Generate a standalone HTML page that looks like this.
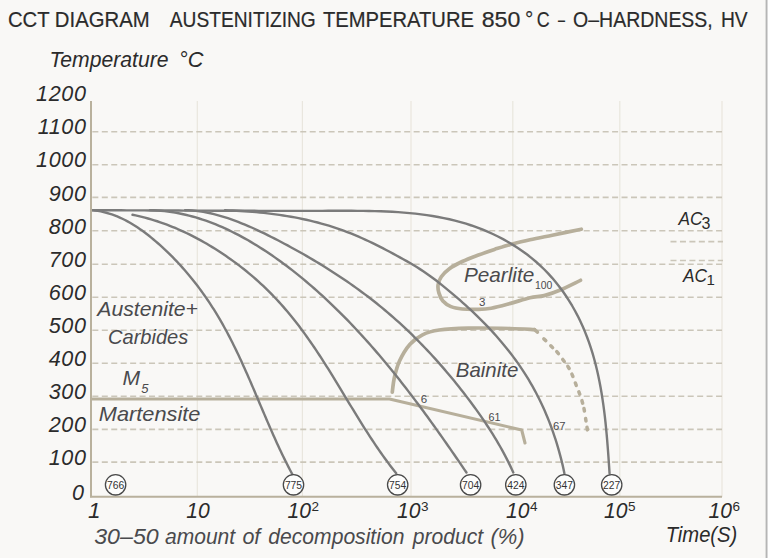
<!DOCTYPE html>
<html><head><meta charset="utf-8"><style>
html,body{margin:0;padding:0;background:#f9f8f6;}
body{width:768px;height:558px;overflow:hidden;position:relative;}
svg{position:absolute;left:0;top:0;}
text{font-family:"Liberation Sans",sans-serif;}
</style></head><body>
<svg width="768" height="558" viewBox="0 0 768 558">
<rect x="0" y="0" width="768" height="558" fill="#f9f8f6"/>
<line x1="197.3" y1="101.0" x2="197.3" y2="497.0" stroke="#e9e6de" stroke-width="1.2"/>
<line x1="302.4" y1="101.0" x2="302.4" y2="497.0" stroke="#e9e6de" stroke-width="1.2"/>
<line x1="411.0" y1="101.0" x2="411.0" y2="497.0" stroke="#e9e6de" stroke-width="1.2"/>
<line x1="512.8" y1="101.0" x2="512.8" y2="497.0" stroke="#e9e6de" stroke-width="1.2"/>
<line x1="619.8" y1="101.0" x2="619.8" y2="497.0" stroke="#e9e6de" stroke-width="1.2"/>
<line x1="722.0" y1="101.0" x2="722.0" y2="497.0" stroke="#e9e6de" stroke-width="1.2"/>
<line x1="92.35" y1="131.8" x2="722.0" y2="131.8" stroke="#cbc6b9" stroke-width="1.6" stroke-dasharray="6 3.45"/>
<line x1="92.35" y1="164.7" x2="722.0" y2="164.7" stroke="#cbc6b9" stroke-width="1.6" stroke-dasharray="6 3.45"/>
<line x1="92.35" y1="197.4" x2="722.0" y2="197.4" stroke="#cbc6b9" stroke-width="1.6" stroke-dasharray="6 3.45"/>
<line x1="92.35" y1="230.7" x2="722.0" y2="230.7" stroke="#cbc6b9" stroke-width="1.6" stroke-dasharray="6 3.45"/>
<line x1="92.35" y1="264.2" x2="722.0" y2="264.2" stroke="#cbc6b9" stroke-width="1.6" stroke-dasharray="6 3.45"/>
<line x1="92.35" y1="297.2" x2="722.0" y2="297.2" stroke="#cbc6b9" stroke-width="1.6" stroke-dasharray="6 3.45"/>
<line x1="92.35" y1="330.2" x2="722.0" y2="330.2" stroke="#cbc6b9" stroke-width="1.6" stroke-dasharray="6 3.45"/>
<line x1="92.35" y1="363.2" x2="722.0" y2="363.2" stroke="#cbc6b9" stroke-width="1.6" stroke-dasharray="6 3.45"/>
<line x1="92.35" y1="396.2" x2="722.0" y2="396.2" stroke="#cbc6b9" stroke-width="1.6" stroke-dasharray="6 3.45"/>
<line x1="92.35" y1="429.4" x2="722.0" y2="429.4" stroke="#cbc6b9" stroke-width="1.6" stroke-dasharray="6 3.45"/>
<line x1="92.35" y1="462.1" x2="722.0" y2="462.1" stroke="#cbc6b9" stroke-width="1.6" stroke-dasharray="6 3.45"/>
<line x1="670.5" y1="241.6" x2="723" y2="241.6" stroke="#cbc6b9" stroke-width="1.6" stroke-dasharray="6 3.45"/>
<line x1="670.5" y1="260.5" x2="723" y2="260.5" stroke="#cbc6b9" stroke-width="1.6" stroke-dasharray="6 3.45"/>
<path d="M581.3 229.2 C576.5 230.2 560.8 233.4 552.3 235.2 C543.8 236.9 537.0 238.1 530.0 239.7 C523.0 241.2 516.5 242.9 510.6 244.5 C504.7 246.1 499.9 247.7 494.5 249.4 C489.1 251.2 483.8 253.0 478.4 255.0 C473.0 257.0 467.1 259.2 462.3 261.5 C457.5 263.8 452.9 266.1 449.4 268.7 C445.9 271.2 443.2 274.1 441.3 276.8 C439.4 279.5 438.5 282.1 438.1 284.8 C437.7 287.5 438.1 290.2 438.9 292.9 C439.7 295.6 440.9 298.7 442.9 301.0 C444.9 303.3 447.8 305.3 451.0 306.6 C454.2 307.9 457.7 308.5 462.3 309.0 C466.9 309.5 473.6 309.5 478.4 309.4 C483.2 309.3 485.9 309.2 491.3 308.2 C496.7 307.2 504.2 305.1 510.6 303.4 C517.1 301.6 524.4 299.0 530.0 297.7 C535.6 296.4 539.2 296.9 544.2 295.6 C549.2 294.3 554.2 292.6 560.3 290.0 C566.3 287.4 577.1 281.9 580.5 280.3" fill="none" stroke="#b7af9b" stroke-width="3.7" stroke-linecap="round" stroke-linejoin="round" />
<path d="M392.3 392.1 C392.6 389.7 393.2 382.7 394.4 377.5 C395.6 372.3 397.0 366.4 399.6 360.8 C402.2 355.2 406.2 348.5 410.0 344.2 C413.8 339.9 417.6 337.2 422.5 334.8 C427.4 332.4 431.6 331.1 439.2 330.0 C446.8 328.9 456.5 328.4 468.3 328.1 C480.1 327.9 499.0 328.2 510.0 328.5 C521.0 328.8 530.4 329.5 534.5 329.7" fill="none" stroke="#b7af9b" stroke-width="3.7" stroke-linecap="round" stroke-linejoin="round" />
<path d="M543.82 338.94 L545.78 340.66 M550.78 345.78 L552.62 347.62 M556.76 351.61 L558.44 353.59 M562.73 359.45 L564.27 361.55 M567.83 366.29 L569.17 368.51 M571.88 374.11 L572.92 376.49 M575.33 382.99 L576.27 385.41 M578.85 391.78 L579.75 394.22 M581.94 400.65 L582.66 403.15 M583.95 408.52 L584.45 411.08 M585.60 418.42 L586.00 420.98 M587.00 427.32 L587.40 429.88 " fill="none" stroke="#b7af9b" stroke-width="3.5" stroke-linecap="round"/>
<path d="M534.5 329.7 L537.5 332.2" fill="none" stroke="#b7af9b" stroke-width="3.5" stroke-linecap="round" stroke-linejoin="round" />
<path d="M92.0 399.0 L389.5 399.0 L521.7 430.0 L525.0 443.0" fill="none" stroke="#b7af9b" stroke-width="3.1" stroke-linecap="round" stroke-linejoin="round" />
<path d="M91.98 210.19 L97.83 210.21 L103.66 210.24 L109.48 210.26 L115.29 210.28 L121.09 210.31 L126.89 210.33 L132.67 210.36 L138.45 210.38 L144.22 210.41 L149.99 210.43 L155.75 210.46 L161.50 210.48 L167.25 210.51 L172.99 210.53 L178.73 210.56 L184.47 210.58 L190.20 210.61 L195.93 210.63 L201.66 210.65 L207.39 210.67 L213.12 210.70 L218.84 210.72 L224.57 210.74 L230.29 210.75 L236.02 210.77 L241.75 210.79 L247.48 210.80 L253.21 210.81 L258.95 210.83 L264.69 210.84 L270.43 210.84 L276.18 210.85 L281.93 210.86 L287.69 210.86 L293.45 210.86 L299.22 210.86 L305.00 210.85 L310.78 210.85 L316.57 210.84 L322.37 210.83 L328.18 210.82 L334.00 210.80 L339.83 210.79 L345.66 210.78 L351.50 210.79 L357.33 210.83 L363.17 210.88 L369.01 210.97 L374.84 211.11 L380.67 211.28 L386.49 211.51 L392.30 211.80 L398.10 212.15 L403.88 212.58 L409.65 213.08 L415.40 213.66 L421.13 214.34 L426.84 215.11 L432.52 215.98 L438.18 216.96 L443.81 218.06 L449.41 219.28 L454.98 220.62 L460.52 222.10 L466.02 223.72 L471.48 225.49 L476.89 227.40 L482.26 229.46 L487.56 231.66 L492.81 234.01 L497.98 236.50 L503.07 239.15 L508.08 241.93 L513.00 244.87 L517.82 247.95 L522.54 251.18 L527.15 254.55 L531.64 258.07 L536.00 261.74 L540.24 265.55 L544.34 269.51 L548.30 273.61 L552.12 277.84 L555.81 282.20 L559.35 286.69 L562.76 291.29 L566.02 296.00 L569.15 300.82 L572.13 305.74 L574.97 310.75 L577.67 315.84 L580.22 321.02 L582.63 326.27 L584.89 331.59 L587.02 336.97 L589.00 342.41 L590.85 347.91 L592.58 353.45 L594.18 359.04 L595.67 364.68 L597.05 370.34 L598.33 376.04 L599.51 381.77 L600.60 387.52 L601.59 393.29 L602.51 399.07 L603.35 404.86 L604.12 410.66 L604.83 416.46 L605.48 422.25 L606.07 428.03 L606.61 433.81 L607.12 439.56 L607.58 445.29 L608.02 451.00 L608.43 456.67 L608.82 462.31 L609.20 467.91 L609.56 473.47" fill="none" stroke="#7b7b7b" stroke-width="2.4" stroke-linecap="round" stroke-linejoin="round" />
<path d="M225.00 210.19 L228.88 210.34 L232.76 210.52 L236.65 210.72 L240.53 210.95 L244.42 211.20 L248.31 211.48 L252.20 211.79 L256.09 212.14 L259.98 212.51 L263.86 212.91 L267.75 213.35 L271.63 213.83 L275.50 214.33 L279.37 214.88 L283.23 215.46 L287.09 216.08 L290.94 216.74 L294.78 217.44 L298.61 218.18 L302.43 218.96 L306.24 219.79 L310.04 220.66 L313.83 221.57 L317.60 222.53 L321.36 223.54 L325.10 224.60 L328.83 225.71 L332.55 226.86 L336.25 228.07 L339.93 229.33 L343.59 230.64 L347.23 232.01 L350.85 233.43 L354.46 234.90 L358.04 236.42 L361.61 237.99 L365.16 239.60 L368.70 241.24 L372.22 242.92 L375.72 244.64 L379.21 246.39 L382.69 248.16 L386.15 249.96 L389.60 251.78 L393.04 253.62 L396.47 255.48 L399.89 257.35 L403.29 259.23 L406.68 261.14 L410.05 263.08 L413.39 265.06 L416.71 267.08 L419.99 269.14 L423.25 271.25 L426.46 273.43 L429.64 275.66 L432.77 277.96 L435.87 280.31 L438.95 282.71 L442.00 285.14 L445.03 287.59 L448.05 290.07 L451.06 292.57 L454.04 295.09 L457.01 297.63 L459.96 300.19 L462.89 302.78 L465.80 305.39 L468.68 308.03 L471.55 310.69 L474.38 313.38 L477.20 316.09 L479.98 318.82 L482.74 321.58 L485.47 324.37 L488.17 327.19 L490.83 330.03 L493.47 332.89 L496.08 335.79 L498.64 338.71 L501.18 341.67 L503.68 344.65 L506.14 347.66 L508.57 350.69 L510.95 353.76 L513.29 356.86 L515.60 359.99 L517.86 363.15 L520.08 366.34 L522.25 369.57 L524.38 372.82 L526.46 376.11 L528.50 379.43 L530.48 382.78 L532.42 386.16 L534.31 389.58 L536.15 393.02 L537.94 396.49 L539.68 399.99 L541.38 403.51 L543.02 407.05 L544.62 410.61 L546.16 414.20 L547.66 417.80 L549.11 421.42 L550.50 425.05 L551.85 428.70 L553.15 432.37 L554.40 436.04 L555.60 439.73 L556.76 443.43 L557.87 447.14 L558.94 450.86 L559.97 454.60 L560.96 458.35 L561.90 462.11 L562.81 465.88 L563.66 469.68 L564.41 473.50" fill="none" stroke="#7b7b7b" stroke-width="2.4" stroke-linecap="round" stroke-linejoin="round" />
<path d="M185.00 210.18 L188.68 210.29 L192.35 210.52 L196.00 210.86 L199.62 211.32 L203.22 211.88 L206.81 212.54 L210.37 213.29 L213.91 214.13 L217.44 215.05 L220.94 216.04 L224.42 217.11 L227.89 218.23 L231.33 219.42 L234.75 220.65 L238.16 221.94 L241.54 223.27 L244.91 224.64 L248.27 226.06 L251.61 227.52 L254.93 229.01 L258.24 230.54 L261.54 232.10 L264.83 233.69 L268.11 235.31 L271.38 236.95 L274.64 238.61 L277.89 240.29 L281.13 241.99 L284.37 243.71 L287.60 245.43 L290.82 247.18 L294.04 248.94 L297.24 250.72 L300.44 252.51 L303.63 254.33 L306.81 256.15 L309.98 258.00 L313.14 259.86 L316.29 261.74 L319.43 263.64 L322.56 265.55 L325.67 267.49 L328.78 269.44 L331.87 271.41 L334.95 273.40 L338.02 275.41 L341.07 277.43 L344.11 279.48 L347.13 281.54 L350.14 283.63 L353.14 285.73 L356.12 287.86 L359.08 290.00 L362.03 292.17 L364.96 294.35 L367.88 296.56 L370.77 298.79 L373.65 301.04 L376.52 303.30 L379.36 305.60 L382.19 307.91 L384.99 310.24 L387.78 312.60 L390.55 314.98 L393.30 317.38 L396.03 319.79 L398.74 322.23 L401.44 324.70 L404.11 327.18 L406.77 329.68 L409.41 332.20 L412.03 334.73 L414.63 337.29 L417.22 339.87 L419.79 342.47 L422.34 345.08 L424.87 347.71 L427.38 350.36 L429.88 353.03 L432.36 355.71 L434.82 358.41 L437.26 361.13 L439.69 363.87 L442.10 366.62 L444.49 369.38 L446.87 372.17 L449.23 374.96 L451.57 377.78 L453.90 380.60 L456.21 383.45 L458.50 386.30 L460.77 389.17 L463.03 392.06 L465.28 394.96 L467.50 397.87 L469.71 400.79 L471.91 403.73 L474.08 406.69 L476.23 409.65 L478.36 412.64 L480.47 415.63 L482.56 418.65 L484.62 421.68 L486.65 424.72 L488.66 427.78 L490.64 430.86 L492.59 433.95 L494.51 437.06 L496.39 440.19 L498.25 443.34 L500.07 446.50 L501.86 449.68 L503.61 452.88 L505.33 456.10 L507.01 459.34 L508.64 462.60 L510.24 465.88 L511.80 469.17 L513.31 472.49" fill="none" stroke="#7b7b7b" stroke-width="2.4" stroke-linecap="round" stroke-linejoin="round" />
<path d="M150.00 210.15 L153.64 210.28 L157.27 210.49 L160.88 210.77 L164.46 211.13 L168.03 211.56 L171.57 212.06 L175.09 212.63 L178.60 213.28 L182.08 213.98 L185.54 214.76 L188.99 215.60 L192.41 216.50 L195.82 217.46 L199.20 218.49 L202.57 219.57 L205.91 220.71 L209.24 221.90 L212.54 223.15 L215.83 224.46 L219.10 225.81 L222.35 227.21 L225.58 228.67 L228.80 230.17 L231.99 231.71 L235.17 233.31 L238.32 234.94 L241.46 236.61 L244.59 238.33 L247.69 240.08 L250.77 241.87 L253.84 243.70 L256.89 245.56 L259.92 247.46 L262.94 249.38 L265.93 251.34 L268.91 253.32 L271.88 255.34 L274.82 257.38 L277.75 259.44 L280.66 261.54 L283.56 263.66 L286.43 265.80 L289.29 267.97 L292.14 270.16 L294.96 272.38 L297.77 274.62 L300.56 276.88 L303.34 279.16 L306.10 281.46 L308.84 283.79 L311.57 286.13 L314.27 288.49 L316.97 290.87 L319.64 293.27 L322.30 295.69 L324.94 298.13 L327.57 300.58 L330.18 303.04 L332.77 305.52 L335.35 308.02 L337.91 310.53 L340.46 313.06 L342.99 315.59 L345.50 318.14 L348.00 320.71 L350.48 323.28 L352.95 325.87 L355.40 328.47 L357.83 331.08 L360.26 333.70 L362.67 336.33 L365.06 338.98 L367.44 341.63 L369.81 344.30 L372.16 346.98 L374.50 349.66 L376.83 352.36 L379.15 355.07 L381.45 357.79 L383.74 360.52 L386.02 363.25 L388.29 366.00 L390.55 368.76 L392.80 371.52 L395.03 374.29 L397.26 377.08 L399.47 379.87 L401.68 382.67 L403.87 385.47 L406.06 388.29 L408.24 391.11 L410.41 393.94 L412.56 396.78 L414.72 399.62 L416.86 402.47 L418.99 405.33 L421.12 408.20 L423.24 411.07 L425.35 413.95 L427.46 416.83 L429.56 419.72 L431.65 422.62 L433.73 425.52 L435.81 428.42 L437.89 431.33 L439.96 434.25 L442.02 437.17 L444.08 440.10 L446.13 443.03 L448.18 445.96 L450.23 448.90 L452.27 451.84 L454.31 454.78 L456.34 457.73 L458.37 460.69 L460.40 463.64 L462.43 466.60 L464.45 469.56 L466.47 472.52" fill="none" stroke="#7b7b7b" stroke-width="2.4" stroke-linecap="round" stroke-linejoin="round" />
<path d="M132.50 214.79 L135.63 215.43 L138.75 216.12 L141.86 216.86 L144.95 217.64 L148.03 218.48 L151.11 219.36 L154.17 220.28 L157.21 221.25 L160.25 222.27 L163.27 223.33 L166.27 224.43 L169.27 225.58 L172.25 226.76 L175.21 227.98 L178.16 229.25 L181.10 230.55 L184.02 231.89 L186.92 233.26 L189.81 234.67 L192.68 236.12 L195.53 237.59 L198.37 239.11 L201.19 240.65 L203.99 242.22 L206.77 243.83 L209.54 245.46 L212.29 247.12 L215.02 248.81 L217.72 250.53 L220.41 252.27 L223.08 254.03 L225.73 255.83 L228.36 257.64 L230.97 259.48 L233.56 261.35 L236.12 263.24 L238.67 265.15 L241.19 267.10 L243.70 269.06 L246.18 271.05 L248.64 273.07 L251.09 275.11 L253.50 277.18 L255.90 279.27 L258.28 281.39 L260.63 283.54 L262.96 285.71 L265.28 287.91 L267.56 290.13 L269.83 292.38 L272.07 294.66 L274.29 296.96 L276.49 299.28 L278.67 301.64 L280.82 304.02 L282.95 306.42 L285.06 308.84 L287.15 311.29 L289.21 313.75 L291.25 316.24 L293.27 318.74 L295.27 321.26 L297.25 323.80 L299.21 326.35 L301.15 328.92 L303.06 331.50 L304.96 334.09 L306.83 336.70 L308.69 339.32 L310.52 341.95 L312.34 344.59 L314.15 347.24 L315.94 349.90 L317.71 352.56 L319.47 355.24 L321.22 357.92 L322.96 360.62 L324.68 363.32 L326.40 366.02 L328.10 368.73 L329.80 371.45 L331.48 374.17 L333.17 376.90 L334.84 379.62 L336.51 382.36 L338.18 385.09 L339.84 387.83 L341.50 390.57 L343.15 393.31 L344.81 396.05 L346.47 398.79 L348.12 401.53 L349.78 404.26 L351.44 407.00 L353.10 409.73 L354.77 412.47 L356.44 415.19 L358.12 417.92 L359.81 420.64 L361.50 423.35 L363.20 426.06 L364.91 428.77 L366.63 431.46 L368.36 434.15 L370.10 436.84 L371.86 439.51 L373.63 442.18 L375.41 444.84 L377.21 447.48 L379.02 450.12 L380.85 452.75 L382.70 455.36 L384.56 457.96 L386.45 460.56 L388.35 463.13 L390.28 465.70 L392.23 468.25 L394.20 470.78 L396.19 473.31" fill="none" stroke="#7b7b7b" stroke-width="2.4" stroke-linecap="round" stroke-linejoin="round" />
<path d="M92.01 210.18 L94.96 210.50 L97.87 210.91 L100.74 211.43 L103.57 212.05 L106.37 212.75 L109.13 213.55 L111.86 214.43 L114.55 215.40 L117.20 216.44 L119.83 217.56 L122.42 218.76 L124.98 220.03 L127.50 221.36 L130.00 222.75 L132.47 224.21 L134.91 225.72 L137.32 227.29 L139.71 228.90 L142.07 230.57 L144.40 232.27 L146.71 234.02 L149.00 235.81 L151.26 237.63 L153.50 239.47 L155.72 241.35 L157.92 243.25 L160.09 245.18 L162.25 247.13 L164.38 249.10 L166.50 251.10 L168.59 253.12 L170.66 255.16 L172.72 257.22 L174.75 259.30 L176.76 261.41 L178.74 263.53 L180.71 265.68 L182.66 267.84 L184.58 270.03 L186.48 272.23 L188.37 274.45 L190.23 276.69 L192.06 278.95 L193.88 281.22 L195.68 283.51 L197.45 285.82 L199.20 288.15 L200.94 290.49 L202.64 292.84 L204.33 295.21 L206.00 297.60 L207.64 300.00 L209.26 302.41 L210.86 304.84 L212.44 307.28 L214.00 309.73 L215.53 312.19 L217.04 314.67 L218.53 317.16 L220.00 319.66 L221.45 322.16 L222.88 324.68 L224.29 327.21 L225.68 329.75 L227.05 332.30 L228.41 334.86 L229.75 337.42 L231.07 340.00 L232.38 342.58 L233.67 345.17 L234.95 347.77 L236.22 350.37 L237.47 352.98 L238.71 355.60 L239.94 358.23 L241.16 360.86 L242.36 363.49 L243.56 366.13 L244.75 368.78 L245.93 371.42 L247.11 374.08 L248.27 376.73 L249.44 379.39 L250.59 382.06 L251.74 384.72 L252.89 387.39 L254.03 390.06 L255.17 392.73 L256.30 395.41 L257.44 398.08 L258.57 400.76 L259.70 403.43 L260.84 406.11 L261.97 408.78 L263.11 411.46 L264.25 414.13 L265.39 416.81 L266.53 419.48 L267.68 422.15 L268.83 424.81 L269.99 427.48 L271.15 430.14 L272.32 432.80 L273.50 435.45 L274.69 438.10 L275.88 440.75 L277.09 443.39 L278.30 446.02 L279.52 448.66 L280.76 451.28 L282.01 453.90 L283.27 456.51 L284.54 459.12 L285.83 461.72 L287.13 464.31 L288.44 466.90 L289.78 469.48 L291.12 472.05 L292.49 474.61" fill="none" stroke="#7b7b7b" stroke-width="2.4" stroke-linecap="round" stroke-linejoin="round" />
<line x1="91" y1="101" x2="91" y2="497.2" stroke="#b9b19d" stroke-width="2"/>
<line x1="90" y1="496.8" x2="722" y2="496.8" stroke="#b9b19d" stroke-width="2.0"/>
<circle cx="115.6" cy="484.8" r="10.2" fill="#fdfdfc" stroke="#4a4a4a" stroke-width="1.3"/>
<text x="115.60" y="488.80" font-size="11.60" font-style="normal" fill="#333" style="color:#333" text-anchor="middle" textLength="17.2" lengthAdjust="spacingAndGlyphs" >766</text>
<circle cx="293.5" cy="484.8" r="10.2" fill="#fdfdfc" stroke="#4a4a4a" stroke-width="1.3"/>
<text x="293.50" y="488.80" font-size="11.60" font-style="normal" fill="#333" style="color:#333" text-anchor="middle" textLength="17.2" lengthAdjust="spacingAndGlyphs" >775</text>
<circle cx="397.7" cy="484.8" r="10.2" fill="#fdfdfc" stroke="#4a4a4a" stroke-width="1.3"/>
<text x="397.70" y="488.80" font-size="11.60" font-style="normal" fill="#333" style="color:#333" text-anchor="middle" textLength="17.2" lengthAdjust="spacingAndGlyphs" >754</text>
<circle cx="470.6" cy="484.8" r="10.2" fill="#fdfdfc" stroke="#4a4a4a" stroke-width="1.3"/>
<text x="470.60" y="488.80" font-size="11.60" font-style="normal" fill="#333" style="color:#333" text-anchor="middle" textLength="17.2" lengthAdjust="spacingAndGlyphs" >704</text>
<circle cx="515.8" cy="484.8" r="10.2" fill="#fdfdfc" stroke="#4a4a4a" stroke-width="1.3"/>
<text x="515.80" y="488.80" font-size="11.60" font-style="normal" fill="#333" style="color:#333" text-anchor="middle" textLength="17.2" lengthAdjust="spacingAndGlyphs" >424</text>
<circle cx="564.4" cy="484.8" r="10.2" fill="#fdfdfc" stroke="#4a4a4a" stroke-width="1.3"/>
<text x="564.40" y="488.80" font-size="11.60" font-style="normal" fill="#333" style="color:#333" text-anchor="middle" textLength="17.2" lengthAdjust="spacingAndGlyphs" >347</text>
<circle cx="611.7" cy="484.8" r="10.2" fill="#fdfdfc" stroke="#4a4a4a" stroke-width="1.3"/>
<text x="611.70" y="488.80" font-size="11.60" font-style="normal" fill="#333" style="color:#333" text-anchor="middle" textLength="17.2" lengthAdjust="spacingAndGlyphs" >227</text>
<text x="7.90" y="27.10" font-size="21.80" font-style="normal" fill="#2b2b2b" style="color:#2b2b2b" text-anchor="start" textLength="141.7" lengthAdjust="spacingAndGlyphs" stroke="currentColor" stroke-width="0.2">CCT DIAGRAM</text>
<text x="169.80" y="27.10" font-size="21.80" font-style="normal" fill="#2b2b2b" style="color:#2b2b2b" text-anchor="start" textLength="146.0" lengthAdjust="spacingAndGlyphs" stroke="currentColor" stroke-width="0.2">AUSTENITIZING</text>
<text x="322.90" y="27.10" font-size="21.80" font-style="normal" fill="#2b2b2b" style="color:#2b2b2b" text-anchor="start" textLength="151.1" lengthAdjust="spacingAndGlyphs" stroke="currentColor" stroke-width="0.2">TEMPERATURE</text>
<text x="481.70" y="27.10" font-size="21.80" font-style="normal" fill="#2b2b2b" style="color:#2b2b2b" text-anchor="start" textLength="38.7" lengthAdjust="spacingAndGlyphs" stroke="currentColor" stroke-width="0.2">850</text>
<text x="525.00" y="27.10" font-size="21.80" font-style="normal" fill="#2b2b2b" style="color:#2b2b2b" text-anchor="start" textLength="8.3" lengthAdjust="spacingAndGlyphs" stroke="currentColor" stroke-width="0.2">°</text>
<text x="536.80" y="27.10" font-size="21.80" font-style="normal" fill="#2b2b2b" style="color:#2b2b2b" text-anchor="start" textLength="12.9" lengthAdjust="spacingAndGlyphs" stroke="currentColor" stroke-width="0.2">C</text>
<text x="557.90" y="27.10" font-size="21.80" font-style="normal" fill="#2b2b2b" style="color:#2b2b2b" text-anchor="start" textLength="7.0" lengthAdjust="spacingAndGlyphs" stroke="currentColor" stroke-width="0.2">–</text>
<text x="573.10" y="27.10" font-size="21.80" font-style="normal" fill="#2b2b2b" style="color:#2b2b2b" text-anchor="start" textLength="139.7" lengthAdjust="spacingAndGlyphs" stroke="currentColor" stroke-width="0.2">O–HARDNESS,</text>
<text x="720.90" y="27.10" font-size="21.80" font-style="normal" fill="#2b2b2b" style="color:#2b2b2b" text-anchor="start" textLength="26.7" lengthAdjust="spacingAndGlyphs" stroke="currentColor" stroke-width="0.2">HV</text>
<text x="49.40" y="66.50" font-size="21.30" font-style="italic" fill="#2b2b2b" style="color:#2b2b2b" text-anchor="start" textLength="119.1" lengthAdjust="spacingAndGlyphs" >Temperature</text>
<text x="179.00" y="66.50" font-size="21.30" font-style="italic" fill="#2b2b2b" style="color:#2b2b2b" text-anchor="start" textLength="24.3" lengthAdjust="spacingAndGlyphs" >°C</text>
<text x="86.50" y="101.30" font-size="21.60" font-style="italic" fill="#2b2b2b" style="color:#2b2b2b" text-anchor="end"  letter-spacing="0.6">1200</text>
<text x="86.50" y="134.00" font-size="21.60" font-style="italic" fill="#2b2b2b" style="color:#2b2b2b" text-anchor="end"  letter-spacing="0.6">1100</text>
<text x="86.50" y="167.10" font-size="21.60" font-style="italic" fill="#2b2b2b" style="color:#2b2b2b" text-anchor="end"  letter-spacing="0.6">1000</text>
<text x="86.50" y="200.80" font-size="21.60" font-style="italic" fill="#2b2b2b" style="color:#2b2b2b" text-anchor="end"  letter-spacing="0.6">900</text>
<text x="86.50" y="233.60" font-size="21.60" font-style="italic" fill="#2b2b2b" style="color:#2b2b2b" text-anchor="end"  letter-spacing="0.6">800</text>
<text x="86.50" y="267.10" font-size="21.60" font-style="italic" fill="#2b2b2b" style="color:#2b2b2b" text-anchor="end"  letter-spacing="0.6">700</text>
<text x="86.50" y="300.10" font-size="21.60" font-style="italic" fill="#2b2b2b" style="color:#2b2b2b" text-anchor="end"  letter-spacing="0.6">600</text>
<text x="86.50" y="333.10" font-size="21.60" font-style="italic" fill="#2b2b2b" style="color:#2b2b2b" text-anchor="end"  letter-spacing="0.6">500</text>
<text x="86.50" y="366.10" font-size="21.60" font-style="italic" fill="#2b2b2b" style="color:#2b2b2b" text-anchor="end"  letter-spacing="0.6">400</text>
<text x="86.50" y="399.20" font-size="21.60" font-style="italic" fill="#2b2b2b" style="color:#2b2b2b" text-anchor="end"  letter-spacing="0.6">300</text>
<text x="86.50" y="432.20" font-size="21.60" font-style="italic" fill="#2b2b2b" style="color:#2b2b2b" text-anchor="end"  letter-spacing="0.6">200</text>
<text x="86.50" y="464.90" font-size="21.60" font-style="italic" fill="#2b2b2b" style="color:#2b2b2b" text-anchor="end"  letter-spacing="0.6">100</text>
<text x="84.00" y="499.60" font-size="21.60" font-style="italic" fill="#2b2b2b" style="color:#2b2b2b" text-anchor="end" >0</text>
<text x="88.00" y="518.00" font-size="22.50" font-style="italic" fill="#2b2b2b" style="color:#2b2b2b" text-anchor="start" >1</text>
<text x="186.20" y="518.00" font-size="22.50" font-style="italic" fill="#2b2b2b" style="color:#2b2b2b" text-anchor="start" textLength="23.5" lengthAdjust="spacingAndGlyphs" >10</text>
<text x="287.50" y="518.00" font-size="22.50" font-style="italic" fill="#2b2b2b" style="color:#2b2b2b" text-anchor="start" textLength="23.5" lengthAdjust="spacingAndGlyphs" >10</text>
<text x="311.50" y="510.80" font-size="13.50" font-style="normal" fill="#2b2b2b" style="color:#2b2b2b" text-anchor="start" >2</text>
<text x="396.90" y="518.00" font-size="22.50" font-style="italic" fill="#2b2b2b" style="color:#2b2b2b" text-anchor="start" textLength="23.5" lengthAdjust="spacingAndGlyphs" >10</text>
<text x="420.90" y="510.80" font-size="13.50" font-style="normal" fill="#2b2b2b" style="color:#2b2b2b" text-anchor="start" >3</text>
<text x="505.90" y="518.00" font-size="22.50" font-style="italic" fill="#2b2b2b" style="color:#2b2b2b" text-anchor="start" textLength="23.5" lengthAdjust="spacingAndGlyphs" >10</text>
<text x="529.90" y="510.80" font-size="13.50" font-style="normal" fill="#2b2b2b" style="color:#2b2b2b" text-anchor="start" >4</text>
<text x="603.90" y="518.00" font-size="22.50" font-style="italic" fill="#2b2b2b" style="color:#2b2b2b" text-anchor="start" textLength="23.5" lengthAdjust="spacingAndGlyphs" >10</text>
<text x="627.90" y="510.80" font-size="13.50" font-style="normal" fill="#2b2b2b" style="color:#2b2b2b" text-anchor="start" >5</text>
<text x="708.60" y="518.00" font-size="22.50" font-style="italic" fill="#2b2b2b" style="color:#2b2b2b" text-anchor="start" textLength="23.5" lengthAdjust="spacingAndGlyphs" >10</text>
<text x="732.60" y="510.80" font-size="13.50" font-style="normal" fill="#2b2b2b" style="color:#2b2b2b" text-anchor="start" >6</text>
<text x="94.20" y="543.50" font-size="21.50" font-style="italic" fill="#4a4a4d" style="color:#4a4a4d" text-anchor="start" textLength="64.5" lengthAdjust="spacingAndGlyphs" >30–50</text>
<text x="165.00" y="543.50" font-size="21.50" font-style="italic" fill="#4a4a4d" style="color:#4a4a4d" text-anchor="start" textLength="70.1" lengthAdjust="spacingAndGlyphs" >amount</text>
<text x="242.40" y="543.50" font-size="21.50" font-style="italic" fill="#4a4a4d" style="color:#4a4a4d" text-anchor="start" textLength="17.9" lengthAdjust="spacingAndGlyphs" >of</text>
<text x="268.30" y="543.50" font-size="21.50" font-style="italic" fill="#4a4a4d" style="color:#4a4a4d" text-anchor="start" textLength="136.1" lengthAdjust="spacingAndGlyphs" >decomposition</text>
<text x="412.83" y="543.50" font-size="21.50" font-style="italic" fill="#4a4a4d" style="color:#4a4a4d" text-anchor="start" textLength="70.3" lengthAdjust="spacingAndGlyphs" >product</text>
<text x="490.40" y="543.50" font-size="21.50" font-style="italic" fill="#4a4a4d" style="color:#4a4a4d" text-anchor="start" textLength="34.2" lengthAdjust="spacingAndGlyphs" >(%)</text>
<text x="665.70" y="541.60" font-size="21.50" font-style="italic" fill="#2b2b2b" style="color:#2b2b2b" text-anchor="start" textLength="71.6" lengthAdjust="spacingAndGlyphs" >Time(S)</text>
<text x="97.36" y="315.80" font-size="21.00" font-style="italic" fill="#4a4a4d" style="color:#4a4a4d" text-anchor="start" textLength="100.6" lengthAdjust="spacingAndGlyphs" >Austenite+</text>
<text x="108.00" y="344.00" font-size="21.00" font-style="italic" fill="#4a4a4d" style="color:#4a4a4d" text-anchor="start" textLength="80.3" lengthAdjust="spacingAndGlyphs" >Carbides</text>
<text x="122.60" y="385.30" font-size="21.00" font-style="italic" fill="#4a4a4d" style="color:#4a4a4d" text-anchor="start" textLength="17.6" lengthAdjust="spacingAndGlyphs" >M</text>
<text x="141.20" y="392.90" font-size="13.00" font-style="italic" fill="#4a4a4d" style="color:#4a4a4d" text-anchor="start" >5</text>
<text x="98.80" y="421.00" font-size="21.00" font-style="italic" fill="#4a4a4d" style="color:#4a4a4d" text-anchor="start" textLength="101.6" lengthAdjust="spacingAndGlyphs" >Martensite</text>
<text x="463.90" y="281.70" font-size="21.00" font-style="italic" fill="#4a4a4d" style="color:#4a4a4d" text-anchor="start" textLength="70.3" lengthAdjust="spacingAndGlyphs" >Pearlite</text>
<text x="535.00" y="289.30" font-size="11.50" font-style="normal" fill="#4a4a4d" style="color:#4a4a4d" text-anchor="start" textLength="17.3" lengthAdjust="spacingAndGlyphs" >100</text>
<text x="479.00" y="305.60" font-size="11.50" font-style="normal" fill="#4a4a4d" style="color:#4a4a4d" text-anchor="start" >3</text>
<text x="455.80" y="377.10" font-size="21.00" font-style="italic" fill="#4a4a4d" style="color:#4a4a4d" text-anchor="start" textLength="62.5" lengthAdjust="spacingAndGlyphs" >Bainite</text>
<text x="420.80" y="403.30" font-size="11.50" font-style="normal" fill="#4a4a4d" style="color:#4a4a4d" text-anchor="start" >6</text>
<text x="488.50" y="420.80" font-size="11.50" font-style="normal" fill="#4a4a4d" style="color:#4a4a4d" text-anchor="start" textLength="12.0" lengthAdjust="spacingAndGlyphs" >61</text>
<text x="553.00" y="429.90" font-size="11.50" font-style="normal" fill="#4a4a4d" style="color:#4a4a4d" text-anchor="start" textLength="12.5" lengthAdjust="spacingAndGlyphs" >67</text>
<text x="678.50" y="225.00" font-size="17.50" font-style="italic" fill="#2b2b2b" style="color:#2b2b2b" text-anchor="start" textLength="24.0" lengthAdjust="spacingAndGlyphs" >AC</text>
<text x="701.50" y="228.50" font-size="16.00" font-style="normal" fill="#2b2b2b" style="color:#2b2b2b" text-anchor="start" >3</text>
<text x="683.00" y="281.50" font-size="17.50" font-style="italic" fill="#2b2b2b" style="color:#2b2b2b" text-anchor="start" textLength="24.0" lengthAdjust="spacingAndGlyphs" >AC</text>
<text x="706.50" y="284.50" font-size="15.00" font-style="normal" fill="#2b2b2b" style="color:#2b2b2b" text-anchor="start" >1</text>
<rect x="765.6" y="0" width="1.4" height="558" fill="#b5b5b5"/><rect x="767" y="0" width="1" height="558" fill="#d9d9d9"/>
</svg>
</body></html>
